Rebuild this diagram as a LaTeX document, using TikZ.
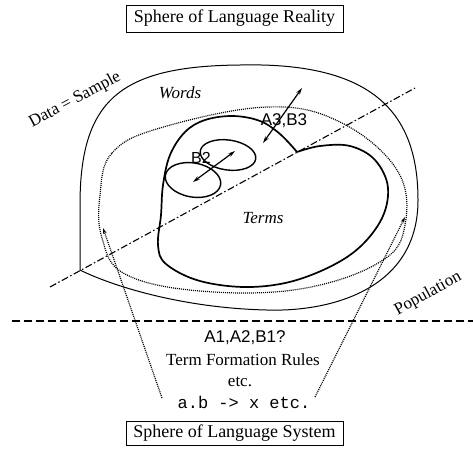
\documentclass[tikz,border=0pt]{standalone}
\usepackage{fontspec}
\setmainfont{Liberation Serif}
\setsansfont{Liberation Sans}
\setmonofont{Liberation Mono}
\usetikzlibrary{arrows.meta}

\begin{document}
\begin{tikzpicture}[>=Stealth, x=1pt, y=-1pt,
    sphere/.style={draw, line width=1pt, minimum width=217pt, inner sep=0pt, font=\fontsize{18}{20}\selectfont},
    label/.style={inner sep=0pt, font=\fontsize{17}{20}\selectfont},
    dotline/.style={line width=1.2pt, dash pattern=on 1pt off 1pt},
    dblarrow/.style={<->, line width=1.2pt, >={Stealth[length=7pt,width=4pt]}}]
		\useasboundingbox (0,0) rectangle (473,448);
		\node[sphere, minimum height=27pt] (reality) at (234.5,18.5) {Sphere of Language Reality};
		\node[sphere, minimum height=24pt] (system) at (234.5,433) {Sphere of Language System};

		% outer boundary and data region
		\draw[line width=1pt] (80,270) -- (80,205) .. controls (80,100) and (120,66) .. (240,65)
			.. controls (370,62) and (418,110) .. (418,200)
			.. controls (418,290) and (330,312) .. (267,310)
			.. controls (180,308) and (110,285) .. (80,270);
		\draw[dotline] plot[smooth cycle, tension=0.65] coordinates {(100,195) (112,153) (160,128) (267,107) (340,122) (397,170) (405,225) (380,262) (300,289) (200,291) (125,274) (102,238)};

		% terms region
		\draw[line width=1.7pt, line join=round] plot[smooth, tension=0.6] coordinates {(297,152) (320,146) (350,146) (375,160) (388,188) (380,222) (350,255) (300,279) (250,287) (200,281) (166,264) (158,245) (161,215) (163,185) (170,155) (185,132) (205,120) (233,116) (260,121) (280,134) (297,152)};
		\draw[line width=1.4pt, rotate around={-10:(193,180)}] (193,180) ellipse (28 and 17);
		\draw[line width=1.4pt, rotate around={-8:(228,155)}] (228,155) ellipse (28 and 15);

		\draw[line width=1.1pt, dash pattern=on 7pt off 2.5pt on 1.5pt off 2.5pt] (50,287) -- (415,88);
		\draw[line width=1.3pt, dash pattern=on 8pt off 4pt] (12,321) -- (473,321);

		\coordinate (b2a) at (193,182);
		\coordinate (b2b) at (235,151);
		\coordinate (a3a) at (263,143);
		\coordinate (a3b) at (302,88);
		\draw[dblarrow] (b2a) -- (b2b);
		\draw[dblarrow] (a3a) -- (a3b);

		\coordinate (ruleL) at (162,398);
		\coordinate (ruleR) at (315,397);
		\coordinate (dataL) at (103,228);
		\coordinate (dataR) at (405,217);
		\draw[dotline, ->, >={Stealth[length=6pt,width=3.5pt]}] (ruleL) -- (dataL);
		\draw[dotline, ->, >={Stealth[length=6pt,width=3.5pt]}] (ruleR) -- (dataR);

		\node[label, rotate=28] (sample) at (75,100) {Data = Sample};
		\node[label, rotate=29] (population) at (428,294) {Population};
		\node[label] (words) at (180,93) {\itshape Words};
		\node[label] (terms) at (263,218) {\itshape Terms};
		\node[label, font=\sffamily\fontsize{17}{20}\selectfont] (a3b3) at (284,121) {A3,B3};
		\node[label, font=\sffamily\fontsize{16}{20}\selectfont] (b2) at (201,158) {B2};
		\node[label, font=\sffamily\fontsize{17}{20}\selectfont] (abq) at (245,338) {A1,A2,B1?};
		\node[label] (rules) at (243,360) {Term Formation Rules};
		\node[label] (etc) at (240,382) {etc.};
		\node[label, font=\ttfamily\fontsize{17}{20}\selectfont] (arrowrule) at (244,402) {a.b -> x etc.};
	\end{tikzpicture}
\end{document}
